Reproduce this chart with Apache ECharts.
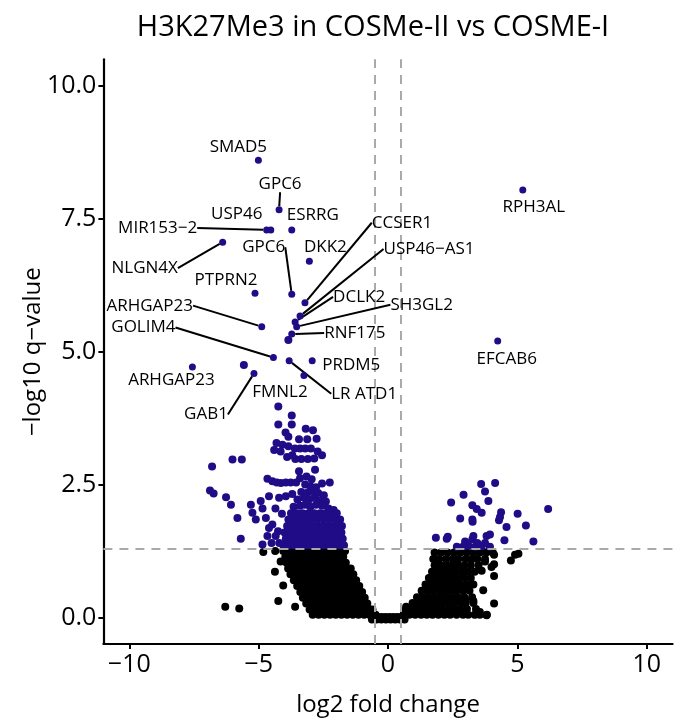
<!DOCTYPE html>
<html><head><meta charset="utf-8">
<script src="https://cdn.jsdelivr.net/npm/echarts@6/dist/echarts.min.js"></script>
<style>html,body{margin:0;padding:0;background:#fff}#c{width:675px;height:722px}</style>
</head><body><div id="c"></div>
<script>
const chartTitle = 'H3K27Me3 in COSMe-II vs COSME-I';
const xName = 'log2 fold change';
const yName = '\u2212log10 q\u2212value';
const xTicks = [-10, -5, 0, 5, 10];
const yTicks = [0, 2.5, 5, 7.5, 10];
const fcCutoffs = [-0.5, 0.5];
const qCutoff = 1.301;

// non-significant genes: rows [y, [x...]] read off the dense cloud, plus single points
const nsRows = [
  [1.25, [-4.05,-3.83,-3.60,-3.38,-3.16,-2.93,-2.71,-2.48,-2.26,-2.04,-1.83,-1.66]],
  [1.14, [-3.97,-3.74,-3.51,-3.29,-3.06,-2.84,-2.61,-2.39,-2.16,-1.94,-1.73]],
  [1.03, [-3.92,-3.69,-3.46,-3.23,-3.01,-2.78,-2.56,-2.33,-2.11,-1.88,-1.63]],
  [0.92, [-3.86,-3.63,-3.41,-3.18,-2.96,-2.73,-2.51,-2.28,-2.06,-1.83,-1.58,-1.44]],
  [0.81, [-3.77,-3.55,-3.33,-3.11,-2.89,-2.66,-2.44,-2.22,-2.00,-1.78,-1.56,-1.34]],
  [0.70, [-3.64,-3.42,-3.20,-2.98,-2.76,-2.54,-2.32,-2.10,-1.88,-1.66,-1.44,-1.23]],
  [0.59, [-3.51,-3.30,-3.08,-2.86,-2.64,-2.42,-2.20,-1.98,-1.76,-1.54,-1.32,-1.11]],
  [0.48, [-3.39,-3.17,-2.95,-2.73,-2.51,-2.29,-2.07,-1.85,-1.63,-1.41,-1.19,-1.00]],
  [0.37, [-3.29,-3.06,-2.84,-2.62,-2.40,-2.18,-1.96,-1.74,-1.52,-1.30,-1.08,-0.90]],
  [0.26, [-3.16,-2.94,-2.72,-2.50,-2.28,-2.06,-1.84,-1.62,-1.40,-1.18,-0.96,-0.80]],
  [0.15, [-3.03,-2.80,-2.58,-2.36,-2.14,-1.92,-1.70,-1.48,-1.26,-1.04,-0.84,-0.70,-0.60]],
  [0.05, [-2.91,-2.68,-2.46,-2.24,-2.02,-1.80,-1.58,-1.36,-1.14,-0.92,-0.72,-0.57,-0.48]],
  [0.01, [-0.40,-0.25,-0.10,0.05,0.20,0.35,0.50]],
  [-0.04, [-0.62,-0.44,-0.26,-0.08,0.10,0.28,0.46,0.64]],
  [1.22, [1.80,2.05,2.30,2.55,2.80,3.05,3.30,3.55,3.80,4.05]],
  [1.10, [1.75,1.98,2.25,2.50,2.72,3.00,3.25,3.45,3.75]],
  [0.98, [1.80,2.02,2.25,2.48,2.70,2.95,3.20,3.50]],
  [0.86, [1.70,1.92,2.15,2.38,2.60,2.85,3.10,3.35]],
  [0.74, [1.58,1.80,2.02,2.25,2.48,2.70,2.95,3.20]],
  [0.62, [1.45,1.68,1.90,2.12,2.35,2.58,2.80,3.05,3.30]],
  [0.50, [1.30,1.52,1.75,1.98,2.20,2.42,2.65,2.90,3.15]],
  [0.38, [1.12,1.35,1.58,1.80,2.02,2.25,2.48,2.70,2.95,3.25]],
  [0.27, [0.95,1.18,1.40,1.62,1.85,2.08,2.30,2.55,2.80,3.00,3.30]],
  [0.16, [0.75,0.98,1.20,1.42,1.65,1.88,2.10,2.35,2.58,2.80,3.05,3.40]],
  [0.05, [0.60,0.82,1.05,1.28,1.50,1.72,1.95,2.18,2.40,2.65,2.90,3.10,3.35,3.55,3.82]]
];
const nsExtra = [
  [-6.29,0.20],[-5.75,0.17],[-4.24,0.31],[-3.59,0.20],[-4.37,0.86],[-4.82,1.23],[-4.36,1.25],
  [-4.15,1.05],[-4.05,0.60],[0.62,0.12],[0.70,0.20],
  [4.75,1.07],[4.91,1.18],[5.04,1.20],[4.10,1.18],[4.10,1.00],[4.10,0.78],[3.68,0.51],[4.10,0.26],
  [3.81,0.04],[3.40,0.06],[3.55,0.10],[3.00,0.31],[3.30,0.31],[3.62,0.88],[3.75,1.05],[3.90,1.25],[4.00,0.95]
];

// significant (q < 0.05) genes
const sigRows = [
  [1.36, [-4.05,-3.85,-3.65,-3.45,-3.25,-3.05,-2.85,-2.65,-2.45,-2.25,-2.05,-1.85,-1.70]],
  [1.48, [-3.95,-3.75,-3.55,-3.35,-3.15,-2.95,-2.75,-2.55,-2.35,-2.15,-1.95,-1.75]],
  [1.60, [-4.00,-3.80,-3.60,-3.40,-3.20,-3.00,-2.80,-2.60,-2.40,-2.20,-2.00,-1.80]],
  [1.72, [-3.90,-3.70,-3.50,-3.30,-3.10,-2.90,-2.70,-2.50,-2.30,-2.10,-1.90,-1.78]],
  [1.84, [-3.85,-3.62,-3.40,-3.18,-2.95,-2.72,-2.50,-2.28,-2.05,-1.85]],
  [1.96, [-3.75,-3.52,-3.30,-3.08,-2.85,-2.62,-2.40,-2.18,-1.98]]
];
const sigExtra = [
  [-4.24,3.97],[-3.72,3.80],[-4.24,3.63],[-3.72,3.63],[-3.18,3.55],[-2.90,3.52],[-3.96,3.48],[-3.85,3.40],
  [-3.44,3.35],[-3.12,3.35],[-2.76,3.36],[-4.31,3.28],[-4.08,3.25],[-3.85,3.22],[-3.60,3.18],[-3.40,3.18],
  [-3.20,3.18],[-2.98,3.18],[-4.40,3.15],[-4.15,3.12],[-2.72,3.12],[-3.90,3.02],[-3.58,2.98],[-3.35,2.98],
  [-3.10,2.98],[-2.85,2.99],[-2.55,3.05],[-3.70,3.05],
  [-2.82,2.78],[-3.44,2.75],[-3.40,2.62],[-3.15,2.65],[-2.95,2.60],[-4.66,2.61],[-4.47,2.56],[-4.30,2.54],
  [-4.14,2.53],[-3.95,2.54],[-3.76,2.54],[-3.55,2.54],[-3.20,2.50],[-3.00,2.47],[-2.78,2.45],[-2.55,2.52],
  [-2.25,2.54],[-3.70,2.32],[-3.35,2.36],[-3.10,2.35],[-2.90,2.38],[-2.70,2.34],[-2.48,2.30],[-3.50,2.22],
  [-3.25,2.25],[-3.05,2.22],[-2.85,2.25],[-2.62,2.20],[-2.40,2.18],[-3.65,2.08],[-3.40,2.10],[-3.20,2.12],
  [-3.00,2.08],[-2.78,2.12],[-2.55,2.10],[-2.30,2.05],[-2.10,2.02],
  [-5.30,2.12],[-4.92,2.19],[-4.60,2.28],[-4.21,2.25],[-3.95,2.28],[-5.24,1.97],[-5.11,1.84],[-4.72,1.87],
  [-4.47,1.75],[-4.85,2.05],[-4.35,2.05],[-4.10,1.95],[-4.25,1.62],[-4.60,1.68],[-4.66,1.53],[-4.34,1.53],
  [-4.85,1.37],[-4.50,1.40],[-4.20,1.40],
  [-6.01,2.97],[-5.65,2.97],[-6.80,2.84],[-6.88,2.39],[-6.74,2.33],[-6.26,2.26],[-6.07,2.12],[-5.82,1.87],[-5.69,1.48],
  [-3.85,5.22],[-5.57,4.75],
  [3.60,2.51],[4.14,2.53],[2.92,2.31],[3.75,2.37],[2.44,2.16],[3.88,2.19],[3.26,2.11],[3.43,2.04],[3.62,1.97],
  [4.37,1.98],[4.33,1.89],[5.01,1.95],[6.19,2.04],[2.79,1.86],[3.26,1.84],[3.27,1.80],[4.58,1.70],[4.29,1.83],
  [5.33,1.73],[1.85,1.50],[2.27,1.48],[2.31,1.52],[3.30,1.53],[3.26,1.47],[3.81,1.53],[3.94,1.56],[4.50,1.45],
  [5.62,1.43],[2.66,1.33],[2.92,1.34],[3.11,1.35],[3.37,1.33],[3.62,1.34],[3.94,1.33],[2.98,1.43],[3.45,1.40],[3.75,1.40]
];

// labelled genes
const geneNames = ['SMAD5','GPC6','USP46','MIR153\u22122','ESRRG','NLGN4X','GPC6','DKK2','PTPRN2','CCSER1',
  'USP46\u2212AS1','DCLK2','SH3GL2','RNF175','ARHGAP23','GOLIM4','LR ATD1','PRDM5','FMNL2','GAB1','ARHGAP23',
  'RPH3AL','EFCAB6'];
const geneX = [-5.01,-4.21,-4.53,-4.69,-3.72,-6.39,-3.72,-3.04,-5.14,-3.21,
  -3.40,-3.59,-3.53,-3.72,-4.88,-4.43,-3.82,-2.93,-3.25,-5.18,-7.56,
  5.21,4.24];
const geneY = [8.60,7.67,7.29,7.29,7.29,7.06,6.08,6.70,6.10,5.92,
  5.67,5.56,5.47,5.33,5.47,4.89,4.83,4.83,4.55,4.59,4.71,
  8.04,5.20];

// label placement (pixel offsets of label centre from point, and whether a leader line is drawn)
const labelPlacement = [[-20,-13,0],[1,-26,1],[-34,-16,0],[-109,-2,1],[21,-15,0],[-78,26,1],[-28,-47,1],[16,-14,0],[-29,-13,0],[97,-80,1],
  [129,-67,1],[64,-25,1],[125,-22,1],[63,-1,1],[-112,-21,1],[-130,-30,1],[75,33,1],[39,4,0],[-24,17,0],[-48,41,1],[-21,13,0],
  [11,17,0],[9,18,0]];

const FONT = '"Open Sans", "Noto Sans", sans-serif';
const BLUE = '#1f0c86';

function fromRows(rows, extra) {
  const out = [];
  rows.forEach(r => r[1].forEach(x => out.push([x, r[0]])));
  extra.forEach(p => out.push(p));
  return out;
}
const nsData = fromRows(nsRows, nsExtra);
const sigData = fromRows(sigRows, sigExtra);

const withLine = [], withLineOff = [], noLine = [], noLineOff = [];
geneNames.forEach((n, i) => {
  const item = { name: n, value: [geneX[i], geneY[i]] };
  if (labelPlacement[i][2]) { withLine.push(item); withLineOff.push(labelPlacement[i]); }
  else { noLine.push(item); noLineOff.push(labelPlacement[i]); }
});

const geneLabel = { show: true, position: 'inside', formatter: '{b}', color: '#000', opacity: 1,
  fontFamily: FONT, fontSize: 17 };

const chart = echarts.init(document.getElementById('c'), null, { renderer: 'canvas' });
chart.setOption({
  animation: false,
  backgroundColor: '#fff',
  title: {
    text: chartTitle, left: 368, top: 8, textAlign: 'center',
    textStyle: { fontFamily: FONT, fontSize: 29, fontWeight: 'normal', color: '#000' }
  },
  grid: { left: 103.4, right: 2.4, top: 59.3, bottom: 77 },
  xAxis: {
    type: 'value', min: -11, max: 11,
    name: xName, nameLocation: 'middle', nameGap: 49,
    nameTextStyle: { fontFamily: FONT, fontSize: 24, color: '#000' },
    axisLine: { onZero: false, lineStyle: { color: '#000', width: 2.2 } },
    axisTick: { show: true, length: 5, lineStyle: { color: '#000', width: 2 }, customValues: xTicks },
    axisLabel: { fontFamily: FONT, fontSize: 25, color: '#000', margin: 8, customValues: xTicks,
      formatter: v => (v < 0 ? '\u2212' + Math.abs(v) : String(v)) },
    splitLine: { show: false }
  },
  yAxis: {
    type: 'value', min: -0.5, max: 10.5,
    name: yName, nameLocation: 'middle', nameGap: 58, nameRotate: 90, nameMoveOverlap: false,
    nameTextStyle: { fontFamily: FONT, fontSize: 24, color: '#000' },
    axisLine: { onZero: false, lineStyle: { color: '#000', width: 2.2 } },
    axisTick: { show: true, length: 5, lineStyle: { color: '#000', width: 2 }, customValues: yTicks },
    axisLabel: { fontFamily: FONT, fontSize: 25, color: '#000', margin: 7, customValues: yTicks,
      formatter: v => v.toFixed(1) },
    splitLine: { show: false }
  },
  series: [
    { type: 'scatter', data: nsData, symbolSize: 8, itemStyle: { color: '#000', opacity: 1 }, z: 2, silent: true },
    { type: 'scatter', data: sigData, symbolSize: 8, itemStyle: { color: BLUE, opacity: 1 }, z: 3, silent: true },
    {
      type: 'line', data: [], z: 6, silent: true,
      markLine: {
        silent: true, symbol: ['none', 'none'], label: { show: false },
        lineStyle: { color: '#a9a9a9', width: 2, type: [9, 7] },
        data: [{ xAxis: fcCutoffs[0] }, { xAxis: fcCutoffs[1] }, { yAxis: qCutoff }]
      }
    },
    {
      type: 'scatter', data: withLine, symbolSize: 7, itemStyle: { color: BLUE, opacity: 1 }, z: 7,
      label: geneLabel,
      labelLine: { show: true, lineStyle: { color: '#000', width: 2, opacity: 1 } },
      labelLayout: p => ({ dx: withLineOff[p.dataIndex][0], dy: withLineOff[p.dataIndex][1] })
    },
    {
      type: 'scatter', data: noLine, symbolSize: 7, itemStyle: { color: BLUE, opacity: 1 }, z: 7,
      label: geneLabel,
      labelLayout: p => ({ dx: noLineOff[p.dataIndex][0], dy: noLineOff[p.dataIndex][1] })
    }
  ]
});
</script></body></html>
